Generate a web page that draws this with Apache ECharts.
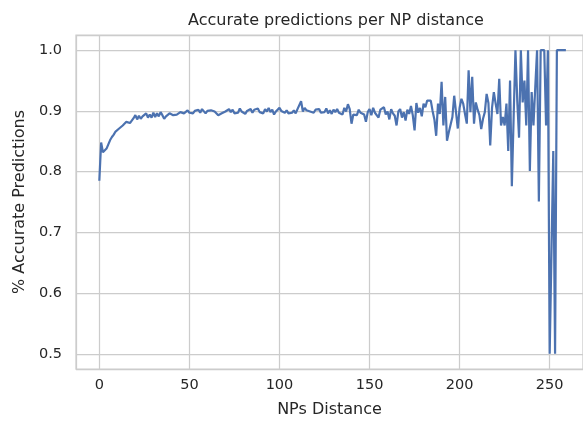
<!DOCTYPE html>
<html>
<head>
<meta charset="utf-8">
<script src="https://cdn.jsdelivr.net/npm/echarts@6/dist/echarts.min.js"></script>
<style>html,body{margin:0;padding:0;background:#fff;}#c{width:583px;height:423px;}</style>
</head>
<body>
<div id="c"></div>
<script>
// NP distances (x) and accuracy values (y)
var distances = [];
for (var d = 0; d <= 259; d++) { if (d !== 251) distances.push(d); }
var accuracy = [
0.785,0.848,0.832,0.829,0.838,0.845,0.852,0.857,0.861,0.866,
0.868,0.871,0.870,0.876,0.875,0.882,0.879,0.880,0.882,0.888,
0.893,0.886,0.892,0.887,0.891,0.888,0.896,0.889,0.894,0.889,
0.897,0.890,0.896,0.891,0.898,0.893,0.887,0.891,0.894,0.896,
0.899,0.893,0.891,0.894,0.896,0.898,0.900,0.896,0.898,0.901,
0.897,0.899,0.896,0.900,0.899,0.902,0.897,0.903,0.901,0.896,
0.900,0.899,0.901,0.898,0.899,0.897,0.893,0.891,0.896,0.894,
0.899,0.897,0.903,0.898,0.902,0.896,0.899,0.897,0.904,0.899,
0.902,0.895,0.900,0.898,0.903,0.897,0.902,0.899,0.904,0.898,
0.901,0.896,0.903,0.899,0.905,0.898,0.902,0.894,0.899,0.897,
0.905,0.900,0.903,0.897,0.901,0.896,0.899,0.897,0.901,0.896,
0.903,0.900,0.916,0.899,0.905,0.901,0.903,0.899,0.901,0.897,
0.902,0.900,0.903,0.897,0.900,0.898,0.904,0.896,0.901,0.895,
0.902,0.898,0.903,0.897,0.899,0.894,0.905,0.899,0.911,0.903,
0.879,0.894,0.897,0.893,0.902,0.897,0.900,0.894,0.882,0.898,
0.903,0.893,0.905,0.897,0.900,0.889,0.902,0.899,0.906,0.894,
0.899,0.886,0.903,0.896,0.892,0.876,0.899,0.903,0.889,0.898,
0.884,0.902,0.895,0.908,0.893,0.868,0.913,0.897,0.905,0.891,
0.912,0.906,0.917,0.914,0.917,0.900,0.886,0.859,0.912,0.895,
0.948,0.876,0.923,0.851,0.865,0.862,0.890,0.925,0.898,0.871,
0.905,0.920,0.912,0.895,0.879,0.967,0.898,0.956,0.879,0.914,
0.902,0.893,0.870,0.887,0.898,0.928,0.913,0.843,0.905,0.931,
0.912,0.895,0.953,0.876,0.890,0.876,0.912,0.834,0.950,0.776,
0.890,1.000,0.917,0.856,1.000,0.914,0.950,0.876,1.000,0.801,
0.931,0.876,0.939,1.000,0.751,1.000,1.000,1.000,0.876,1.000,
0.500,0.834,0.500,1.000,1.000,1.000,1.000,1.000,1.000
];
var titleText = "Accurate predictions per NP distance";
var xName = "NPs Distance";
var yName = "% Accurate Predictions";

var points = distances.map(function (x, i) { return [x, accuracy[i]]; });
var textColor = '#262626';
var gridColor = '#cccccc';
var font = 'DejaVu Sans';

var chart = echarts.init(document.getElementById('c'), null, {renderer: 'canvas'});
chart.setOption({
  backgroundColor: '#ffffff',
  animation: false,
  title: {
    text: titleText,
    left: 331, top: 8, textAlign: 'center',
    textStyle: {fontFamily: font, fontSize: 16, fontWeight: 'normal', color: textColor}
  },
  grid: {
    left: 76, top: 35, right: 0, bottom: 53,
    show: true, borderColor: gridColor, borderWidth: 1.25, backgroundColor: 'transparent',
    containLabel: false
  },
  xAxis: {
    type: 'value', min: -12.95, max: 268.5, splitNumber: 5,
    name: xName, nameLocation: 'middle', nameGap: 33,
    nameTextStyle: {fontFamily: font, fontSize: 16, color: textColor},
    axisLine: {show: false}, axisTick: {show: false},
    axisLabel: {fontFamily: font, fontSize: 14.5, color: textColor, margin: 9,
      showMinLabel: false, showMaxLabel: false},
    splitLine: {show: true, lineStyle: {color: gridColor, width: 1.25}}
  },
  yAxis: {
    type: 'value', min: 0.475, max: 1.025, splitNumber: 5,
    name: yName, nameLocation: 'middle', nameGap: 41,
    nameTextStyle: {fontFamily: font, fontSize: 16, color: textColor},
    axisLine: {show: false}, axisTick: {show: false},
    axisLabel: {fontFamily: font, fontSize: 14.5, color: textColor, margin: 14,
      showMinLabel: false, showMaxLabel: false,
      formatter: function (v) { return v.toFixed(1); }},
    splitLine: {show: true, lineStyle: {color: gridColor, width: 1.25}}
  },
  series: [{
    type: 'line', data: points, showSymbol: false, symbol: 'none',
    lineStyle: {color: '#4c72b0', width: 2.2}, itemStyle: {color: '#4c72b0'},
    clip: true
  }]
});
</script>
</body>
</html>
